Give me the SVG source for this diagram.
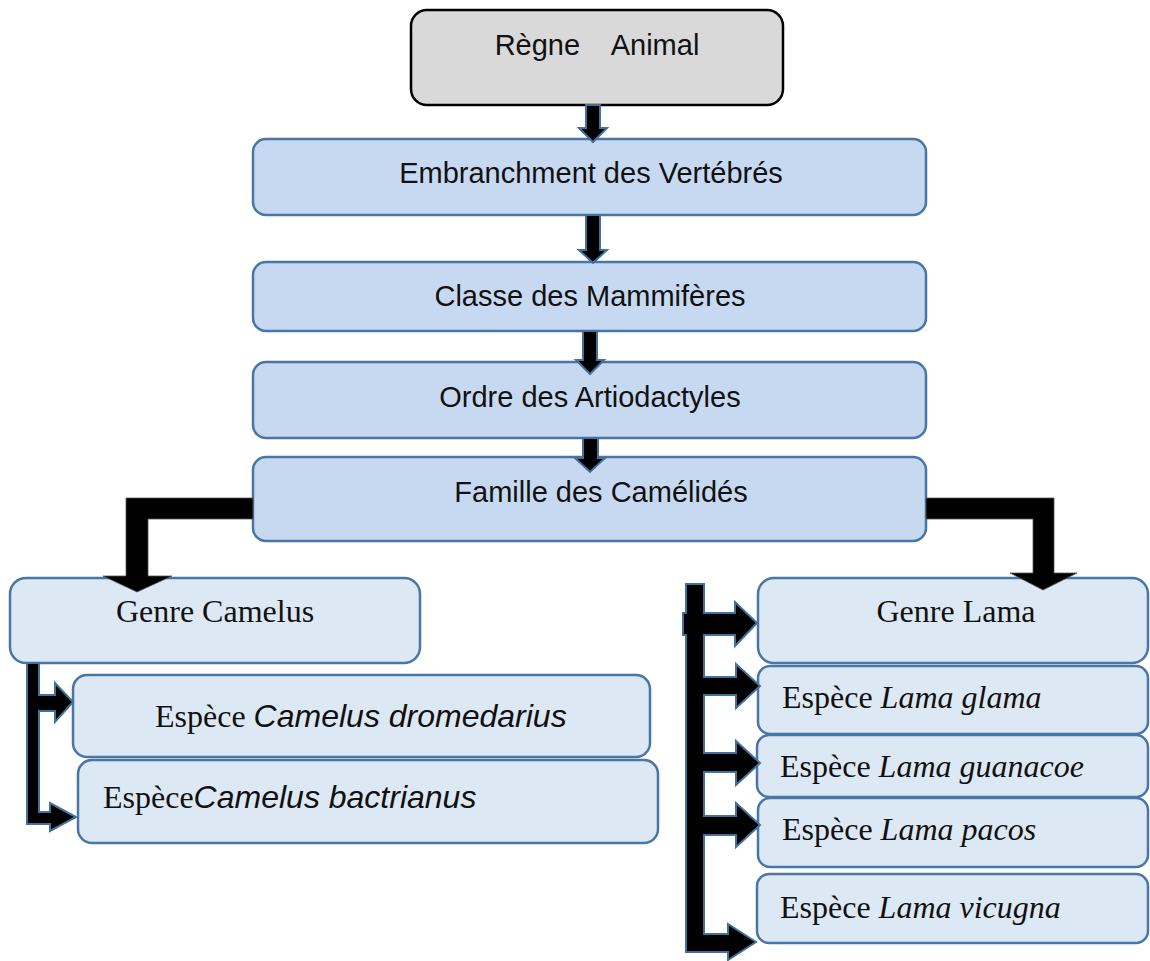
<svg xmlns="http://www.w3.org/2000/svg" width="1150" height="961" viewBox="0 0 1150 961">
<style>
.top{fill:#c7d9f1;stroke:#4a76a6;stroke-width:2.5}
.low{fill:#dde8f5;stroke:#4a76a6;stroke-width:2.5}
.root{fill:#d9d9d9;stroke:#000;stroke-width:2.5}
.sans{font-family:"Liberation Sans",Arial,sans-serif;font-size:29px;fill:#111;text-anchor:middle}
.ser{font-family:"Liberation Serif","Times New Roman",serif;font-size:32px;fill:#111}
.it{font-style:italic}
.si{font-family:"Liberation Sans",Arial,sans-serif;font-style:italic}
.arr{fill:#000;stroke:#41719c;stroke-width:2;stroke-linejoin:miter}
.elb{fill:#000;stroke:#555;stroke-width:0.8}
</style>
<rect width="1150" height="961" fill="#fff"/>
<g id="regne">
<rect class="root" x="411" y="10" width="372" height="95" rx="16"/>
<text class="sans" x="597" y="55" xml:space="preserve">Règne    Animal</text>
</g>
<g id="embranchement">
<rect class="top" x="253" y="139" width="673" height="76" rx="13"/>
<text class="sans" x="591" y="183">Embranchment des Vertébrés</text>
</g>
<g id="classe">
<rect class="top" x="253" y="262" width="673" height="69" rx="13"/>
<text class="sans" x="590" y="306">Classe des Mammifères</text>
</g>
<g id="ordre">
<rect class="top" x="253" y="362" width="673" height="76" rx="13"/>
<text class="sans" x="590" y="407">Ordre des Artiodactyles</text>
</g>
<g id="famille">
<rect class="top" x="253" y="457" width="673" height="84" rx="13"/>
<text class="sans" x="601" y="502">Famille des Camélidés</text>
</g>
<g id="genre-camelus">
<rect class="low" x="10" y="578" width="410" height="85" rx="16"/>
<text class="ser" x="215" y="622" text-anchor="middle">Genre Camelus</text>
</g>
<g id="camelus-dromedarius">
<rect class="low" x="73" y="675" width="577" height="82" rx="14"/>
<text class="ser" x="155" y="727">Espèce <tspan class="si">Camelus dromedarius</tspan></text>
</g>
<g id="camelus-bactrianus">
<rect class="low" x="78" y="760" width="580" height="83" rx="14"/>
<text class="ser" x="103" y="808">Espèce<tspan class="si">Camelus bactrianus</tspan></text>
</g>
<g id="genre-lama">
<rect class="low" x="758" y="578" width="390" height="85" rx="16"/>
<text class="ser" x="956" y="622" text-anchor="middle">Genre Lama</text>
</g>
<g id="lama-glama">
<rect class="low" x="758" y="666" width="390" height="68" rx="12"/>
<text class="ser" x="782" y="708">Espèce <tspan class="it">Lama glama</tspan></text>
</g>
<g id="lama-guanacoe">
<rect class="low" x="757" y="735" width="391" height="62" rx="12"/>
<text class="ser" x="780" y="777">Espèce <tspan class="it">Lama guanacoe</tspan></text>
</g>
<g id="lama-pacos">
<rect class="low" x="758" y="798" width="390" height="69" rx="12"/>
<text class="ser" x="782" y="840">Espèce <tspan class="it">Lama pacos</tspan></text>
</g>
<g id="lama-vicugna">
<rect class="low" x="757" y="874" width="391" height="69" rx="12"/>
<text class="ser" x="780" y="918">Espèce <tspan class="it">Lama vicugna</tspan></text>
</g>
<g id="connectors">
<polygon class="arr" points="586,105 600,105 600,128 607,128 593,142 579,128 586,128"/>
<polygon class="arr" points="586,215 600,215 600,250 607,250 593,263 579,250 586,250"/>
<polygon class="arr" points="583,331 597,331 597,360 604,360 590,374 576,360 583,360"/>
<polygon class="arr" points="583,438 598,438 598,458 605,458 590,472 575,458 583,458"/>
<polygon class="elb" points="253,498 126,498 126,576 103,576 137,592 172,576 148,576 148,519 253,519"/>
<polygon class="elb" points="926,498 1054,498 1054,573 1077,573 1043,590 1010,573 1033,573 1033,519 926,519"/>
<polygon class="arr" points="27,663 39,663 39,695 55,695 55,683 73,702 55,722 55,711 39,711 39,812 50,812 50,803 76,817 50,831 50,824 27,824"/>
<polygon class="arr" points="686,584 704,584 704,613 735,613 735,602 757,623 735,646 735,635 704,635 704,677 736,677 736,664 760,686 736,708 736,695 704,695 704,753 736,753 736,741 760,763 736,785 736,772 704,772 704,816 736,816 736,803 760,825 736,847 736,835 704,835 704,934 728,934 728,924 756,942 728,960 728,952 686,952 686,635 683,635 683,613 686,613"/>
</g>
</svg>
